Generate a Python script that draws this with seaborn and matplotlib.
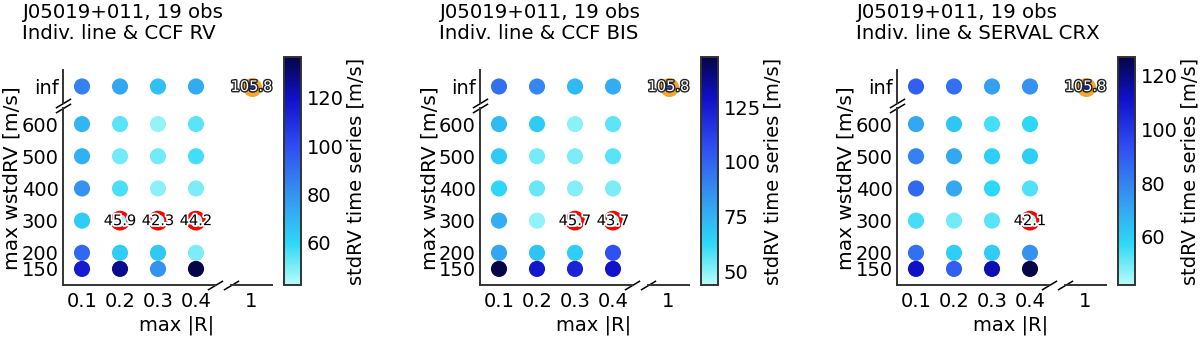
import numpy as np
import pandas as pd
import seaborn as sns
import matplotlib
matplotlib.use('Agg')
import matplotlib.pyplot as plt
import matplotlib.patheffects as pe
from matplotlib.colors import LinearSegmentedColormap, Normalize
from matplotlib.cm import ScalarMappable

# cut values on the two axes
max_r = [0.1, 0.2, 0.3, 0.4]
max_wstd = [150, 200, 300, 400, 500, 600]

titles = ['J05019+011, 19 obs\nIndiv. line & CCF RV',
          'J05019+011, 19 obs\nIndiv. line & CCF BIS',
          'J05019+011, 19 obs\nIndiv. line & SERVAL CRX']

# stdRV of the time series [m/s]; rows = max_wstd (150 .. 600), cols = max_r
rv_grid = [[116, 128, 80, 137],
           [92, 63, 64, 50],
           [63, 45.9, 42.3, 44.2],
           [80, 56, 48, 50],
           [71, 51, 51, 57],
           [70, 54, 47, 54]]
rv_inf = [85, 74, 66, 73]

bis_grid = [[148, 127, 122, 128],
            [79, 69, 66, 106],
            [76, 49, 45.7, 43.7],
            [63, 55, 51, 52],
            [67, 53, 52, 57],
            [72, 67, 50, 56]]
bis_inf = [96, 89, 73, 77]

crx_grid = [[112, 89, 114, 127],
            [85, 60, 61, 76],
            [55, 50, 53, 42.1],
            [87, 70, 58, 54],
            [80, 70, 60, 60],
            [70, 62, 55, 58]]
crx_inf = [89, 85, 72, 76]

no_cut = 105.8  # max |R| = 1, max wstdRV = inf

cbar_ticks = [[60, 80, 100, 120], [50, 75, 100, 125], [60, 80, 100, 120]]

cmap = LinearSegmentedColormap.from_list('stdrv', [
    (0.0, '#b8fcf8'), (0.18, '#2ed8f6'), (0.40, '#3592ef'),
    (0.61, '#2f4cf2'), (0.82, '#1010c8'), (1.0, '#050548')])

sns.set_style('white')
plt.rcParams['font.family'] = ['DejaVu Sans']
plt.rcParams['axes.edgecolor'] = '#333333'
plt.rcParams['text.color'] = 'black'
plt.rcParams['xtick.color'] = 'black'
plt.rcParams['ytick.color'] = 'black'

W, H = 1200, 340
fig = plt.figure(figsize=(12, 3.4), dpi=100)


def px(l, t, w, h):
    return [l / W, 1 - (t + h) / H, w / W, h / H]


S = 135
FS = 14


def brk(ax, x, y, sl=0.6):
    ax.plot([x], [y], transform=ax.transAxes, marker=[(-1, -sl), (1, sl)],
            markersize=11, linestyle='none', color='k', mec='k', mew=1.1,
            clip_on=False)


def panel(off, title, grid, inf_row, ticks):
    vals = np.array(grid, dtype=float)
    allv = np.concatenate([vals.ravel(), inf_row, [no_cut]])
    norm = Normalize(allv.min(), allv.max())
    thr = 1.1 * allv.min()

    ax = fig.add_axes(px(off + 63, 108, 152, 177))
    ax_top = fig.add_axes(px(off + 63, 70, 152, 33))
    ax_r = fig.add_axes(px(off + 231, 108, 41, 177))
    ax_c = fig.add_axes(px(off + 231, 70, 41, 33))
    cax = fig.add_axes(px(off + 284, 57, 17, 228))

    df = pd.DataFrame({'max_r': np.tile(max_r, len(max_wstd)),
                       'max_wstd': np.repeat(max_wstd, len(max_r)),
                       'std': vals.ravel()})
    sns.scatterplot(data=df, x='max_r', y='max_wstd', hue='std', palette=cmap,
                    hue_norm=norm, s=S, linewidth=0, legend=False, ax=ax, zorder=3)
    dtop = pd.DataFrame({'max_r': max_r, 'y': 0, 'std': inf_row})
    sns.scatterplot(data=dtop, x='max_r', y='y', hue='std', palette=cmap,
                    hue_norm=norm, s=S, linewidth=0, legend=False, ax=ax_top, zorder=3)

    # best cuts: red ring + value
    for d, a, ycol in ((df, ax, 'max_wstd'), (dtop, ax_top, 'y')):
        best = d[d['std'] <= thr]
        a.scatter(best['max_r'], best[ycol], s=S, facecolors='none',
                  edgecolors='red', linewidths=2.6, zorder=4)
        for _, row in best.iterrows():
            a.text(row['max_r'], row[ycol], f"{row['std']:.1f}", ha='center',
                   va='center', fontsize=10.5, zorder=5,
                   path_effects=[pe.withStroke(linewidth=2.5, foreground='white')])

    # no cut at all
    ax_c.scatter([1], [0], s=110, color=cmap(norm(no_cut)), edgecolors='#f5a532',
                 linewidths=3.2, zorder=3)
    ax_c.text(1, 0, f'{no_cut:.1f}', ha='center', va='center', fontsize=10.5,
              color='white', zorder=5,
              path_effects=[pe.withStroke(linewidth=2, foreground='#222222')])

    ax.set_xlim(0.05, 0.45)
    ax.set_ylim(100, 650)
    ax_top.set_xlim(0.05, 0.45)
    ax_top.set_ylim(-1, 1)
    ax_r.set_xlim(0.5, 1.5)
    ax_r.set_ylim(100, 650)
    ax_c.set_xlim(0.5, 1.5)
    ax_c.set_ylim(-1, 1)
    ax_c.axis('off')

    ax.set_xticks(max_r)
    ax.set_xticklabels([str(v) for v in max_r])
    ax.set_yticks(max_wstd)
    ax.set_xlabel('')
    ax.set_ylabel('')
    ax_top.set_xticks([])
    ax_top.set_yticks([0])
    ax_top.set_yticklabels(['inf'])
    ax_top.set_xlabel('')
    ax_top.set_ylabel('')
    ax_r.set_xticks([1])
    ax_r.set_xticklabels(['1'])
    ax_r.set_yticks([])

    for a in (ax, ax_top, ax_r):
        for s in a.spines.values():
            s.set_linewidth(1.4)
        a.spines['top'].set_visible(False)
        a.spines['right'].set_visible(False)
        a.set_facecolor('none')
    ax_top.spines['bottom'].set_visible(False)
    ax_r.spines['left'].set_visible(False)

    for a in (ax, ax_r):
        a.tick_params(axis='x', direction='in', length=8, width=1.4,
                      labelsize=FS, pad=5, colors='#222222', labelcolor='black')
    for a in (ax, ax_top):
        a.tick_params(axis='y', direction='in', length=6, width=1.4,
                      labelsize=FS, pad=3, colors='#222222', labelcolor='black')

    brk(ax, 0, 1)
    brk(ax_top, 0, 0)
    brk(ax, 1, 0)
    brk(ax_r, 0, 0)

    cb = fig.colorbar(ScalarMappable(norm=norm, cmap=cmap), cax=cax, ticks=ticks)
    cb.outline.set_linewidth(1.4)
    cb.outline.set_edgecolor('#333333')
    cax.tick_params(direction='in', length=6, width=1.4, labelsize=FS, pad=4,
                    colors='#222222', labelcolor='black')

    fig.text((off + 22) / W, 1 - 3 / H, title, ha='left', va='top', fontsize=14.2,
             linespacing=1.15)
    fig.text((off + 12.5) / W, 1 - 178 / H, 'max wstdRV [m/s]', rotation=90,
             ha='center', va='center', fontsize=14.5)
    fig.text((off + 177) / W, 1 - 325 / H, 'max |R|', ha='center', va='center',
             fontsize=FS)
    fig.text((off + 356) / W, 1 - 171 / H, 'stdRV time series [m/s]', rotation=90,
             ha='center', va='center', fontsize=FS)


panel(0, titles[0], rv_grid, rv_inf, cbar_ticks[0])
panel(417, titles[1], bis_grid, bis_inf, cbar_ticks[1])
panel(834, titles[2], crx_grid, crx_inf, cbar_ticks[2])

fig.savefig('out.png', dpi=100)
